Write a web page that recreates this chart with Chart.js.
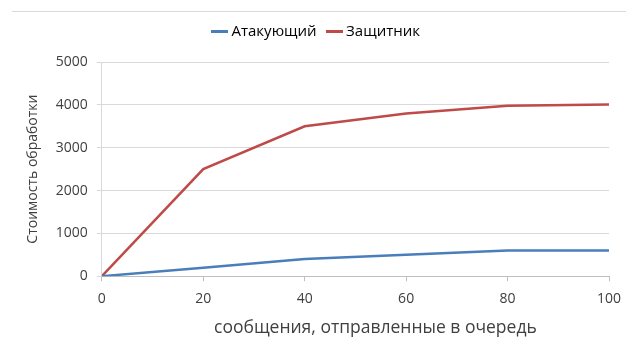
<!DOCTYPE html>
<html>
<head>
<meta charset="utf-8">
<script src="https://cdn.jsdelivr.net/npm/chart.js@4/dist/chart.umd.min.js"></script>
<style>
  html, body { margin: 0; padding: 0; background: #fff; }
  #wrap { position: relative; width: 626px; height: 339px; }
  #topline { position: absolute; left: 12px; right: 0; top: 11px; height: 0; border-top: 1px solid #d9d9d9; }
  canvas { position: absolute; left: 0; top: 0; }
</style>
</head>
<body>
<div id="wrap">
  <div id="topline"></div>
  <canvas id="c" width="626" height="339"></canvas>
</div>
<script>
const messages = [0, 20, 40, 60, 80, 100];
const attacker = [0, 200, 400, 500, 600, 600];
const defender = [0, 2500, 3500, 3800, 3980, 4010];
const seriesNames = ['Атакующий', 'Защитник'];
const xTitle = 'сообщения, отправленные в очередь';
const yTitle = 'Стоимость обработки';

const FONT = '"Open Sans", "Noto Sans", sans-serif';
const BLUE = '#4a7ebb';
const RED = '#be4b48';

function lineSwatch(color) {
  const c = document.createElement('canvas');
  c.width = 17; c.height = 3;
  const g = c.getContext('2d');
  g.fillStyle = color;
  g.fillRect(0, 0, 17, 3);
  return c;
}

const legendLayout = {
  id: 'legendLayout',
  beforeInit(chart) {
    const lg = chart.legend;
    if (!lg) return;
    const orig = lg.fit;
    lg.fit = function () {
      orig.call(this);
      this.height = 52;
    };
  },
  afterLayout(chart) {
    const lg = chart.legend;
    if (!lg) return;
    lg.left += 5;
    lg.right += 5;
  }
};

const xTitlePlugin = {
  id: 'xTitleShifted',
  afterDraw(chart) {
    const xs = chart.scales.x;
    const ctx = chart.ctx;
    ctx.save();
    ctx.font = '17.5px ' + FONT;
    ctx.fillStyle = '#404040';
    ctx.textAlign = 'center';
    ctx.textBaseline = 'middle';
    ctx.fillText(xTitle, (xs.left + xs.right) / 2 + 20, xs.bottom - 10.5);
    ctx.restore();
  }
};

new Chart(document.getElementById('c'), {
  type: 'line',
  plugins: [legendLayout, xTitlePlugin],
  data: {
    datasets: [
      {
        label: seriesNames[0],
        data: messages.map((x, i) => ({ x: x, y: attacker[i] })),
        borderColor: BLUE,
        backgroundColor: BLUE,
        borderWidth: 2.5,
        pointRadius: 0,
        tension: 0,
        pointStyle: lineSwatch(BLUE)
      },
      {
        label: seriesNames[1],
        data: messages.map((x, i) => ({ x: x, y: defender[i] })),
        borderColor: RED,
        backgroundColor: RED,
        borderWidth: 2.5,
        pointRadius: 0,
        tension: 0,
        pointStyle: lineSwatch(RED)
      }
    ]
  },
  options: {
    responsive: false,
    animation: false,
    devicePixelRatio: 1,
    layout: { padding: { left: 0, right: 0, top: 10, bottom: 0 } },
    plugins: {
      tooltip: { enabled: false },
      legend: {
        position: 'top',
        labels: {
          usePointStyle: true,
          pointStyleWidth: 8,
          boxHeight: 15,
          font: { family: FONT, size: 15 },
          color: '#000',
          padding: 14
        }
      }
    },
    scales: {
      x: {
        type: 'linear',
        min: 0,
        max: 100,
        afterFit: (scale) => {
          scale.paddingRight = 17;
          scale.height += 23;
        },
        ticks: {
          stepSize: 20,
          font: { family: FONT, size: 14 },
          color: '#404040',
          padding: 9,
          callback: (v) => String(v)
        },
        grid: {
          drawOnChartArea: false,
          drawTicks: true,
          tickLength: 5,
          color: '#bfbfbf'
        },
        border: { color: '#bfbfbf', width: 1 },
        title: { display: false }
      },
      y: {
        min: 0,
        max: 5000,
        ticks: {
          stepSize: 1000,
          font: { family: FONT, size: 14 },
          color: '#404040',
          padding: 9,
          callback: (v) => String(v)
        },
        grid: {
          color: '#d9d9d9',
          tickLength: 5,
          drawTicks: true
        },
        border: { color: '#d9d9d9', width: 1 },
        title: {
          display: true,
          text: yTitle,
          font: { family: FONT, size: 14 },
          color: '#404040',
          padding: { top: 25, bottom: 5 }
        }
      }
    }
  }
});
</script>
</body>
</html>
